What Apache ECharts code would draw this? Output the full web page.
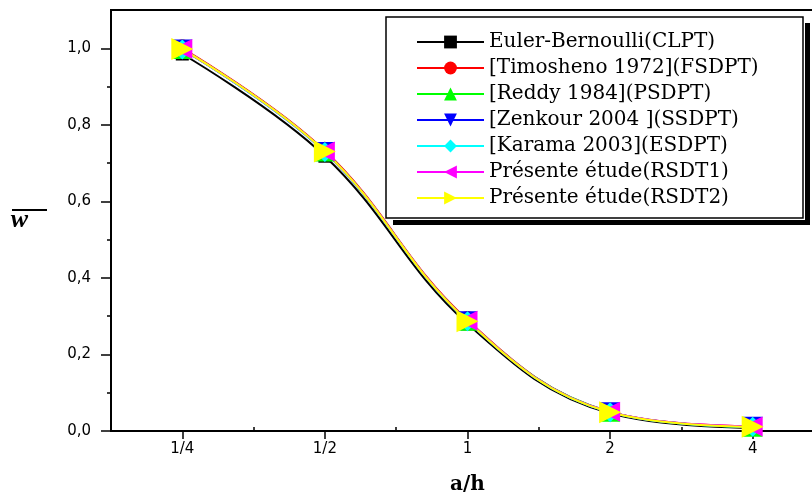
<!DOCTYPE html>
<html>
<head>
<meta charset="utf-8">
<script src="https://cdn.jsdelivr.net/npm/echarts@6/dist/echarts.min.js"></script>
<style>
  html, body { margin: 0; padding: 0; background: #fff; }
  #chart { width: 812px; height: 493px; }
</style>
</head>
<body>
<div id="chart"></div>
<script>
var ratios = [0.25, 0.5, 1, 2, 4];
var ratioLabels = ['1/4', '1/2', '1', '2', '4'];
var xMinorTicks = [Math.pow(2, -2.5), Math.pow(2, -1.5), Math.pow(2, -0.5), Math.pow(2, 0.5), Math.pow(2, 1.5)];
var yTicks = [0, 0.2, 0.4, 0.6, 0.8, 1.0];
var yMinorTicks = [0.1, 0.3, 0.5, 0.7, 0.9];

var seriesNames = [
    'Euler-Bernoulli(CLPT)',
    '[Timosheno 1972](FSDPT)',
    '[Reddy 1984](PSDPT)',
    '[Zenkour 2004 ](SSDPT)',
    '[Karama 2003](ESDPT)',
    'Présente étude(RSDT1)',
    'Présente étude(RSDT2)'
];
var clpt  = [0.985, 0.718, 0.280, 0.046, 0.008];
var fsdpt = [1.000, 0.732, 0.290, 0.050, 0.012];
var psdpt = [0.998, 0.730, 0.288, 0.050, 0.011];
var ssdpt = [0.997, 0.729, 0.287, 0.049, 0.011];
var esdpt = [0.997, 0.729, 0.287, 0.049, 0.011];
var rsdt1 = [0.998, 0.730, 0.288, 0.050, 0.012];
var rsdt2 = [0.998, 0.730, 0.287, 0.049, 0.011];

var allValues = [clpt, fsdpt, psdpt, ssdpt, esdpt, rsdt1, rsdt2];
var colors = ['#000000', '#ff0000', '#00ff00', '#0000ff', '#00ffff', '#ff00ff', '#ffff00'];
var symbols = ['rect', 'circle', 'triangle', 'triangle', 'diamond', 'triangle', 'triangle'];
var rotations = [0, 0, 0, 180, 0, 90, -90];
var sizes = [13, 18, 20, 20, 20, 20, 22];

function pairs(vals) {
    return ratios.map(function (r, i) { return [r, vals[i]]; });
}

var chart = echarts.init(document.getElementById('chart'));

var series = allValues.map(function (vals, i) {
    return {
        name: seriesNames[i],
        type: 'line',
        data: pairs(vals),
        smooth: 0.4,
        symbol: symbols[i],
        symbolRotate: rotations[i],
        symbolSize: sizes[i],
        color: colors[i],
        lineStyle: { color: colors[i], width: 2 },
        itemStyle: { color: colors[i] },
        emphasis: { disabled: true },
        animation: false
    };
});

var xCommon = {
    type: 'log',
    logBase: 2,
    min: Math.pow(2, -2.5),
    max: Math.pow(2, 2.5),
    splitLine: { show: false },
    minorSplitLine: { show: false }
};

var option = {
    animation: false,
    grid: {
        left: 111, top: 10, bottom: 62, width: 713,
        outerBoundsMode: 'none',
        containLabel: false,
        show: true, borderColor: '#000', borderWidth: 2
    },
    legend: {
        orient: 'vertical',
        left: 416,
        top: 32,
        itemWidth: 67,
        itemHeight: 16,
        itemGap: 6,
        padding: 0,
        data: seriesNames,
        textStyle: {
            fontFamily: 'DejaVu Serif',
            fontSize: 20,
            lineHeight: 20,
            color: '#000'
        },
        z: 10
    },
    xAxis: [
        Object.assign({}, xCommon, {
            name: 'a/h',
            nameLocation: 'middle',
            nameGap: 44,
            nameTextStyle: { fontFamily: 'DejaVu Serif', fontWeight: 'bold', fontSize: 20, color: '#000' },
            axisLine: { lineStyle: { color: '#000', width: 2 } },
            axisTick: { customValues: ratios, length: 8, lineStyle: { color: '#000', width: 1.5 } },
            axisLabel: {
                customValues: ratios,
                margin: 11,
                fontFamily: 'DejaVu Sans',
                fontSize: 15,
                color: '#000',
                formatter: function (v) {
                    var idx = ratios.findIndex(function (r) { return Math.abs(r - v) < 1e-6; });
                    return idx >= 0 ? ratioLabels[idx] : '';
                }
            }
        }),
        Object.assign({}, xCommon, {
            axisLine: { show: false },
            axisTick: { customValues: xMinorTicks, length: 4, lineStyle: { color: '#000', width: 1.5 } },
            axisLabel: { show: false }
        })
    ],
    yAxis: [
        {
            type: 'value',
            min: 0,
            max: 1.1,
            name: 'w',
            nameLocation: 'middle',
            nameRotate: 0,
            nameGap: 83,
            nameTextStyle: {
                fontFamily: 'Liberation Serif', fontStyle: 'italic', fontWeight: 'bold',
                fontSize: 26, color: '#000', padding: [6, 0, 0, 0]
            },
            splitLine: { show: false },
            axisLine: { show: true, lineStyle: { color: '#000', width: 2 } },
            axisTick: { customValues: yTicks, length: 10, lineStyle: { color: '#000', width: 1.5 } },
            axisLabel: {
                customValues: yTicks,
                margin: 20,
                fontFamily: 'DejaVu Sans',
                fontSize: 15,
                color: '#000',
                formatter: function (v) { return v.toFixed(1).replace('.', ','); }
            }
        },
        {
            type: 'value',
            min: 0,
            max: 1.1,
            position: 'left',
            splitLine: { show: false },
            axisLine: { show: false },
            axisTick: { customValues: yMinorTicks, length: 4, lineStyle: { color: '#000', width: 1.5 } },
            axisLabel: { show: false }
        }
    ],
    graphic: [
        // overline above the w
        { type: 'line', shape: { x1: 12, y1: 210, x2: 47, y2: 210 }, style: { stroke: '#000', lineWidth: 2 } },
        // legend frame with its hard shadow
        { type: 'rect', z: 5, shape: { x: 805, y: 23, width: 5, height: 202 }, style: { fill: '#000' } },
        { type: 'rect', z: 5, shape: { x: 393, y: 220, width: 417, height: 5 }, style: { fill: '#000' } },
        { type: 'rect', z: 5, shape: { x: 386, y: 17, width: 417, height: 201 }, style: { fill: '#fff', stroke: '#000', lineWidth: 1.5 } }
    ],
    series: series
};

chart.setOption(option);
</script>
</body>
</html>
